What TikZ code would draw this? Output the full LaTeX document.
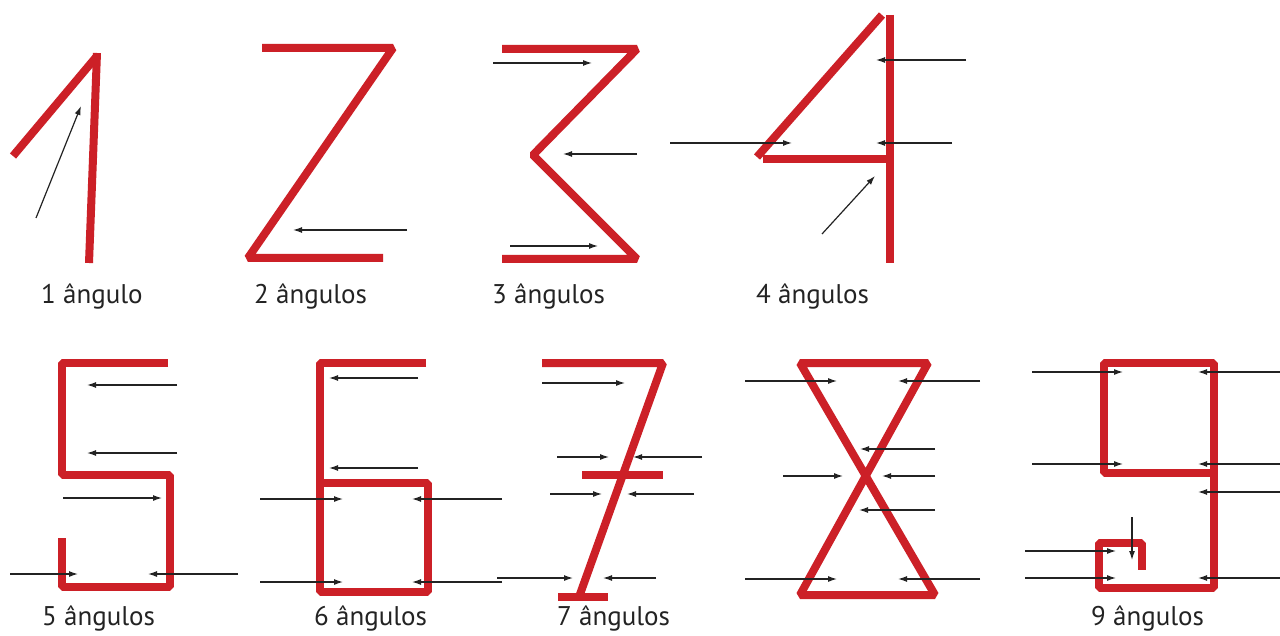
\documentclass[tikz,border=0pt]{standalone}
\usepackage{fontspec}
\setmainfont{PT Sans}
\usetikzlibrary{arrows.meta}
\definecolor{dred}{RGB}{204,32,39}
\definecolor{ink}{RGB}{35,35,35}
\tikzset{
  digit/.style={draw=dred, line width=8pt, line join=bevel},
  arr/.style={draw=ink, line width=1.2pt, -{Latex[length=9pt,width=6pt]}},
  lbl/.style={anchor=base west, inner sep=0pt, text=ink, font=\fontsize{27}{31}\selectfont}
}
\begin{document}
\begin{tikzpicture}[x=1pt,y=-1pt]
\useasboundingbox[fill=white] (0,0) rectangle (1280,636);
% ---- 1
\draw[digit] (13,156) -- (97,56);
\draw[digit] (97,53) -- (89,263);
\draw[arr] (36,218) -- (81,106);
\node[lbl] (l1) at (41,304) {1 ângulo};
% ---- 2
\draw[digit] (262,48) -- (393,48) -- (248,258) -- (383,258);
\draw[arr] (407,230) -- (293,230);
\node[lbl] (l2) at (254,304) {2 ângulos};
% ---- 3
\draw[digit] (502,49) -- (637,49) -- (533,155) -- (637,259) -- (502,259);
\draw[arr] (493,63) -- (592,63);
\draw[arr] (637,154) -- (563,154);
\draw[arr] (510,246) -- (598,246);
\node[lbl] (l3) at (492,304) {3 ângulos};
% ---- 4
\draw[digit] (890,15) -- (890,263);
\draw[digit] (882,15) -- (757,157);
\draw[digit] (763,159) -- (890,159);
\draw[arr] (966,60) -- (876,60);
\draw[arr] (670,143) -- (792,143);
\draw[arr] (952,143) -- (876,143);
\draw[arr] (822,234) -- (875,176);
\node[lbl] (l4) at (756,304) {4 ângulos};
% ---- 5
\draw[digit] (168,363) -- (62,363) -- (62,475) -- (170,475) -- (170,587) -- (62,587) -- (62,538);
\draw[arr] (177,385) -- (87,385);
\draw[arr] (177,453) -- (87,453);
\draw[arr] (63,498) -- (162,498);
\draw[arr] (10,574) -- (78,574);
\draw[arr] (238,574) -- (148,574);
\node[lbl] (l5) at (42,625) {5 ângulos};
% ---- 6
\draw[digit] (426,363) -- (320,363) -- (320,592) -- (428,592) -- (428,483) -- (320,483);
\draw[arr] (418,378) -- (329,378);
\draw[arr] (418,468) -- (329,468);
\draw[arr] (260,499) -- (343,499);
\draw[arr] (502,499) -- (412,499);
\draw[arr] (260,582) -- (343,582);
\draw[arr] (502,582) -- (412,582);
\node[lbl] (l6) at (314,625) {6 ângulos};
% ---- 7
\draw[digit] (542,363) -- (663,363) -- (579,597);
\draw[digit] (558,597) -- (608,597);
\draw[digit] (582,475) -- (663,475);
\draw[arr] (542,383) -- (625,383);
\draw[arr] (557,457) -- (609,457);
\draw[arr] (702,457) -- (633,457);
\draw[arr] (550,494) -- (602,494);
\draw[arr] (694,494) -- (627,494);
\draw[arr] (497,578) -- (573,578);
\draw[arr] (656,578) -- (603,578);
\node[lbl] (l7) at (557,625) {7 ângulos};
% ---- 8
\draw[digit] (800,363) -- (928,363) -- (800,595) -- (935,595) -- cycle;
\draw[arr] (745,381) -- (837,381);
\draw[arr] (980,381) -- (898,381);
\draw[arr] (935,449) -- (860,449);
\draw[arr] (783,476) -- (843,476);
\draw[arr] (935,476) -- (882,476);
\draw[arr] (935,510) -- (859,510);
\draw[arr] (745,579) -- (837,579);
\draw[arr] (980,579) -- (898,579);
% ---- 9
\draw[digit] (1214,473) -- (1104,473) -- (1104,363) -- (1214,363) -- (1214,588) -- (1099,588) -- (1099,543) -- (1142,543) -- (1142,570);
\draw[arr] (1032,372) -- (1123,372);
\draw[arr] (1280,372) -- (1198,372);
\draw[arr] (1032,464) -- (1123,464);
\draw[arr] (1280,464) -- (1198,464);
\draw[arr] (1280,492) -- (1198,492);
\draw[arr] (1132,517) -- (1132,560);
\draw[arr] (1025,551) -- (1116,551);
\draw[arr] (1025,578) -- (1116,578);
\draw[arr] (1280,578) -- (1198,578);
\node[lbl] (l9) at (1091,625) {9 ângulos};
\end{tikzpicture}
\end{document}
